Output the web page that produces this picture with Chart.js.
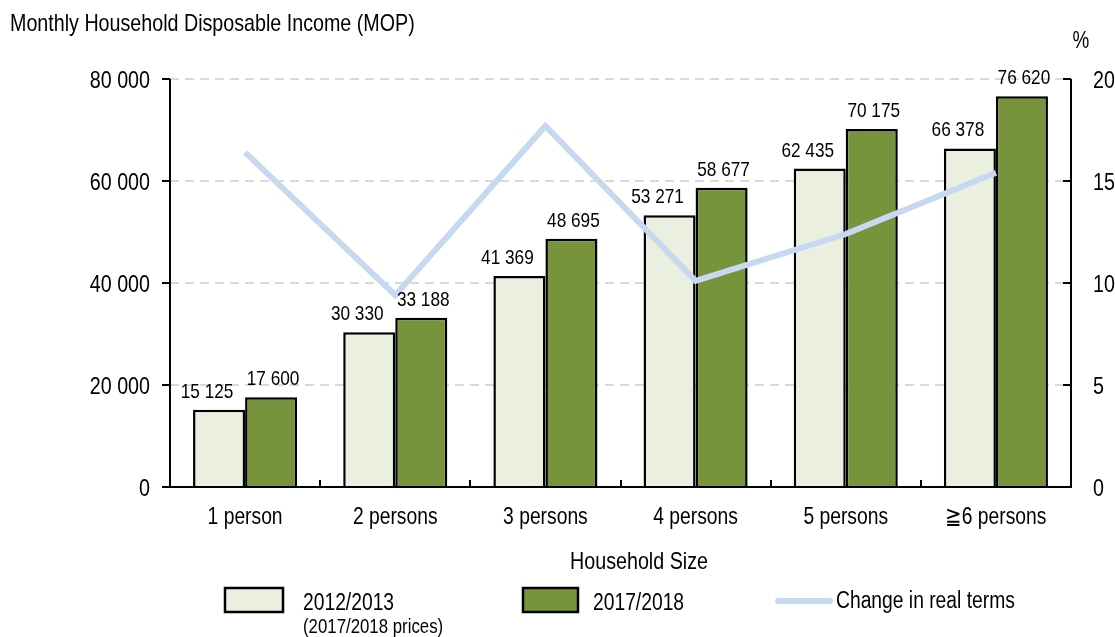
<!DOCTYPE html>
<html>
<head>
<meta charset="utf-8">
<script src="https://cdn.jsdelivr.net/npm/chart.js@4"></script>
<style>
html,body{margin:0;padding:0;background:#fff;}
#wrap{width:1115px;height:637px;position:relative;}
</style>
</head>
<body>
<div id="wrap"><canvas id="c" width="1115" height="637"></canvas></div>
<script>
const categories = ["1 person", "2 persons", "3 persons", "4 persons", "5 persons", "\u22676 persons"];
const income2012 = [15125, 30330, 41369, 53271, 62435, 66378];
const income2017 = [17600, 33188, 48695, 58677, 70175, 76620];
const realChange = [16.4, 9.4, 17.7, 10.1, 12.4, 15.4];
const leftTicks = [0, 20000, 40000, 60000, 80000];
const rightTicks = [0, 5, 10, 15, 20];
const seriesNames = ["2012/2013", "2017/2018", "Change in real terms"];
const seriesNote = "(2017/2018 prices)";
const yTitle = "Monthly Household Disposable Income (MOP)";
const y2Title = "%";
const xTitle = "Household Size";

const FONT = "'Liberation Sans', Arial, sans-serif";
const NARROW = 0.82;
const LIGHT = '#EBEFE0', GREEN = '#77933C', LINE = '#C6D9F1';

function fmt(v){ return String(v).replace(/\B(?=(\d{3})+(?!\d))/g, ' '); }

function txt(ctx, s, x, y, size, align){
  ctx.font = size + 'px ' + FONT;
  ctx.textAlign = align || 'left';
  ctx.textBaseline = 'alphabetic';
  const w = ctx.measureText(s).width * NARROW;
  ctx.fillText(s, x, y, w);
}

const decor = {
  id: 'decor',
  beforeDatasetsDraw(chart){
    const ctx = chart.ctx, a = chart.chartArea, y = chart.scales.y;
    ctx.save();
    ctx.strokeStyle = '#D9D9D9'; ctx.lineWidth = 2; ctx.setLineDash([9,6]);
    leftTicks.forEach(t => { if (t === 0) return;
      const py = Math.round(y.getPixelForValue(t));
      ctx.beginPath(); ctx.moveTo(a.left, py); ctx.lineTo(a.right, py); ctx.stroke();
    });
    ctx.restore();
  },
  afterDatasetsDraw(chart){
    const ctx = chart.ctx, a = chart.chartArea, y = chart.scales.y, y2 = chart.scales.y2, x = chart.scales.x;
    ctx.save();
    ctx.fillStyle = '#000';
    const offs = [-12, 2];
    [0,1].forEach(di => {
      const meta = chart.getDatasetMeta(di);
      meta.data.forEach((bar, i) => {
        const v = chart.data.datasets[di].data[i];
        txt(ctx, fmt(v), bar.x + offs[di], bar.y - 12, 21, 'center');
      });
    });
    leftTicks.forEach(t => txt(ctx, fmt(t), a.left - 20, y.getPixelForValue(t) + 8.5, 24, 'right'));
    rightTicks.forEach(t => txt(ctx, String(t), a.right + 22, y2.getPixelForValue(t) + 8.5, 24, 'left'));
    categories.forEach((c, i) => txt(ctx, c, x.getPixelForValue(i), a.bottom + 37, 23.5, 'center'));
    ctx.strokeStyle = '#000'; ctx.lineWidth = 2; ctx.setLineDash([]);
    ctx.beginPath();
    ctx.moveTo(a.left, a.top); ctx.lineTo(a.left, a.bottom);
    ctx.moveTo(a.right, a.top); ctx.lineTo(a.right, a.bottom);
    ctx.moveTo(a.left - 1, a.bottom); ctx.lineTo(a.right + 1, a.bottom);
    leftTicks.forEach(t => { const py = Math.round(y.getPixelForValue(t)); ctx.moveTo(a.left - 8, py); ctx.lineTo(a.left, py); });
    rightTicks.forEach(t => { const py = Math.round(y2.getPixelForValue(t)); ctx.moveTo(a.right - 8, py); ctx.lineTo(a.right, py); });
    for (let i = 1; i < categories.length; i++) {
      const px = Math.round((x.getPixelForValue(i - 1) + x.getPixelForValue(i)) / 2);
      ctx.moveTo(px, a.bottom); ctx.lineTo(px, a.bottom - 7);
    }
    ctx.stroke();
    ctx.restore();
  },
  afterDraw(chart){
    const ctx = chart.ctx;
    ctx.save();
    ctx.fillStyle = '#000';
    txt(ctx, yTitle, 10, 31, 24, 'left');
    txt(ctx, y2Title, 1081, 48, 23, 'center');
    txt(ctx, xTitle, 639, 569, 24, 'center');
    ctx.lineWidth = 2.5; ctx.strokeStyle = '#000';
    ctx.fillStyle = LIGHT; ctx.fillRect(225, 588, 58, 24); ctx.strokeRect(225, 588, 58, 24);
    ctx.fillStyle = GREEN; ctx.fillRect(523, 588, 55, 24); ctx.strokeRect(523, 588, 55, 24);
    ctx.strokeStyle = LINE; ctx.lineWidth = 6; ctx.lineCap = 'round';
    ctx.beginPath(); ctx.moveTo(778, 601); ctx.lineTo(830, 601); ctx.stroke();
    ctx.fillStyle = '#000';
    txt(ctx, seriesNames[0], 303, 610, 23.5, 'left');
    txt(ctx, seriesNames[1], 593, 610, 23.5, 'left');
    txt(ctx, seriesNames[2], 836, 608, 23.5, 'left');
    txt(ctx, seriesNote, 303, 633, 20.5, 'left');
    ctx.restore();
  }
};

new Chart(document.getElementById('c'), {
  type: 'bar',
  data: {
    labels: categories,
    datasets: [
      { label: seriesNames[0], data: income2012, backgroundColor: LIGHT, borderColor: '#000', borderWidth: 2.5, borderSkipped: 'bottom', categoryPercentage: 0.693, barPercentage: 1, yAxisID: 'y', order: 2 },
      { label: seriesNames[1], data: income2017, backgroundColor: GREEN, borderColor: '#000', borderWidth: 2.5, borderSkipped: 'bottom', categoryPercentage: 0.693, barPercentage: 1, yAxisID: 'y', order: 2 },
      { type: 'line', label: seriesNames[2], data: realChange, borderColor: LINE, borderWidth: 6, pointRadius: 0, tension: 0, fill: false, yAxisID: 'y2', order: 1 }
    ]
  },
  options: {
    responsive: false, animation: false,
    layout: { padding: { top: 79, left: 0, right: 0, bottom: 0 } },
    plugins: { legend: { display: false }, tooltip: { enabled: false }, title: { display: false } },
    scales: {
      x: {
        grid: { display: false, drawTicks: false }, border: { display: false },
        ticks: { display: false },
        afterFit(s){ s.height = 150; }
      },
      y: {
        position: 'left', min: 0, max: 80000,
        grid: { display: false, drawTicks: false }, border: { display: false },
        afterBuildTicks(s){ s.ticks = leftTicks.map(v => ({ value: v })); },
        ticks: { display: false },
        afterFit(s){ s.width = 170; }
      },
      y2: {
        position: 'right', min: 0, max: 20,
        grid: { display: false, drawTicks: false }, border: { display: false },
        afterBuildTicks(s){ s.ticks = rightTicks.map(v => ({ value: v })); },
        ticks: { display: false },
        afterFit(s){ s.width = 44; }
      }
    }
  },
  plugins: [decor]
});
</script>
</body>
</html>
